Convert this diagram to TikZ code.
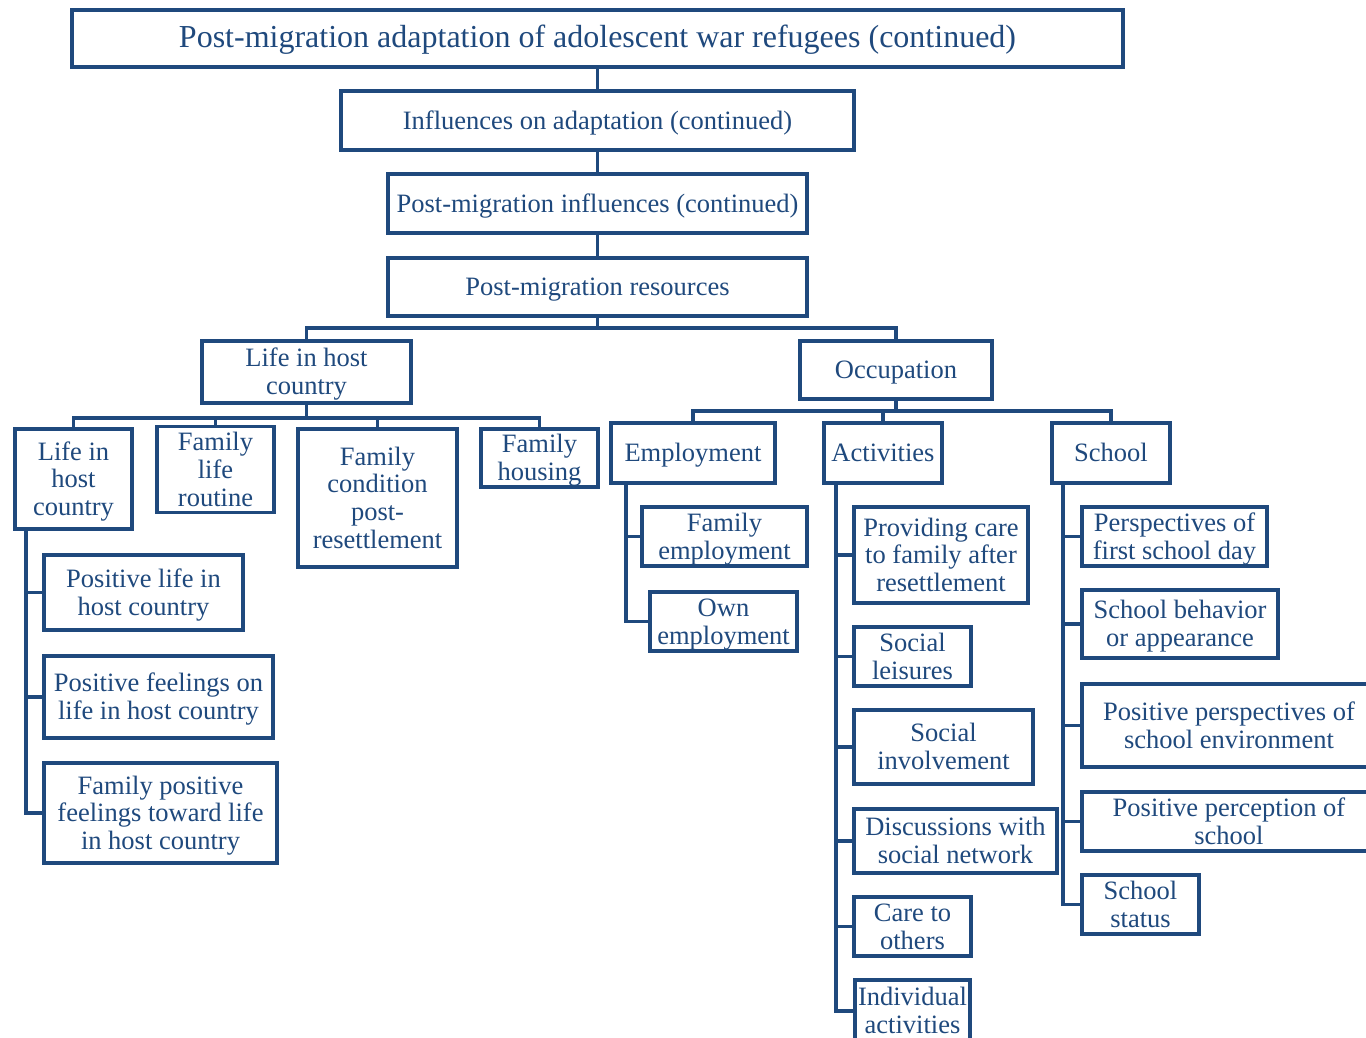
\documentclass[tikz,border=0pt]{standalone}
\usepackage{fontspec}
\setmainfont{Liberation Serif}
\definecolor{navy}{RGB}{31,73,125}
% fixed ascent for the first text line of a box
\newcommand{\topstrut}{\rule{0pt}{24pt}}
\begin{document}
\begin{tikzpicture}[x=1pt,y=-1pt,
  bx/.style={draw=navy,line width=3.6pt,fill=white,text=navy,inner sep=0pt,
    align=center,font=\fontsize{26.5}{27.8}\selectfont,
    execute at begin node={\topstrut},
    execute at end node={\rule[-6.3pt]{0pt}{6.3pt}}},
  link/.style={draw=navy,line width=3.6pt}]
\useasboundingbox (0,0) rectangle (1366,1037);
\fill[white] (0,0) rectangle (1366,1037);

% junction points of the horizontal bars
\coordinate (barA) at (597.5,328);
\coordinate (barB) at (306.5,418);
\coordinate (barC) at (896,411);

% boxes
\node[bx,minimum width=1051,minimum height=57,font=\fontsize{32}{36}\selectfont] (title) at (597.5,38.5) {Post-migration adaptation of adolescent war refugees (continued)};
\node[bx,minimum width=513,minimum height=59] (infl) at (597.5,120.5) {Influences on adaptation (continued)};
\node[bx,minimum width=419,minimum height=59] (pmi) at (597.5,203.5) {Post-migration influences (continued)};
\node[bx,minimum width=419,minimum height=58] (res) at (597.5,287) {Post-migration resources};

\node[bx,minimum width=209,minimum height=62] (life1) at (306.5,372) {\topstrut Life in host\\country};
\node[bx,minimum width=192,minimum height=58] (occ) at (896,370) {Occupation};

\node[bx,minimum width=117,minimum height=100] (lhc) at (73.5,479) {\topstrut Life in\\host\\country};
\node[bx,minimum width=117,minimum height=81] (flr) at (215.5,469.5) {\topstrut Family\\life\\routine};
\node[bx,minimum width=159,minimum height=138] (fcp) at (377.5,498) {\topstrut Family\\condition\\post-\\resettlement};
\node[bx,minimum width=117,minimum height=58] (fh) at (539.5,458) {\topstrut Family\\housing};

\node[bx,minimum width=164,minimum height=60] (emp) at (693,453) {Employment};
\node[bx,minimum width=118,minimum height=60] (act) at (883,453) {Activities};
\node[bx,minimum width=118,minimum height=60] (sch) at (1111,453) {School};

\node[bx,minimum width=199,minimum height=75] (pl1) at (143.5,592.5) {\topstrut Positive life in\\host country};
\node[bx,minimum width=229,minimum height=82] (pl2) at (158.5,697) {\topstrut Positive feelings on\\life in host country};
\node[bx,minimum width=233,minimum height=100] (pl3) at (160.5,813) {\topstrut Family positive\\feelings toward life\\in host country};

\node[bx,minimum width=165,minimum height=59] (fe) at (724.5,536.5) {\topstrut Family\\employment};
\node[bx,minimum width=147,minimum height=59] (oe) at (723.5,621.5) {\topstrut Own\\employment};

\node[bx,minimum width=174,minimum height=96] (a1) at (941,555) {\topstrut Providing care\\to family after\\resettlement};
\node[bx,minimum width=117,minimum height=59] (a2) at (912.5,656.5) {\topstrut Social\\leisures};
\node[bx,minimum width=179,minimum height=74] (a3) at (943.5,747) {\topstrut Social\\involvement};
\node[bx,minimum width=203,minimum height=64] (a4) at (955.5,841) {\topstrut Discussions with\\social network};
\node[bx,minimum width=117,minimum height=59] (a5) at (912.5,926.5) {\topstrut Care to\\others};
\node[bx,minimum width=115,minimum height=62] (a6) at (912.5,1011) {\topstrut Individual\\activities};

\node[bx,minimum width=185,minimum height=59] (s1) at (1174.5,536.5) {\topstrut Perspectives of\\first school day};
\node[bx,minimum width=196,minimum height=68] (s2) at (1180,624) {\topstrut School behavior\\or appearance};
\node[bx,minimum width=294,minimum height=83] (s3) at (1229,725.5) {\topstrut Positive perspectives of\\school environment};
\node[bx,minimum width=294,minimum height=59] (s4) at (1229,821.5) {\topstrut Positive perception of\\school};
\node[bx,minimum width=117,minimum height=59] (s5) at (1140.5,904.5) {\topstrut School\\status};

% trunk and bars
\path[link] (title.south) -- (infl.north);
\path[link] (infl.south) -- (pmi.north);
\path[link] (pmi.south) -- (res.north);
\path[link] (res.south) -- (barA);
\path[link] (barA) -| (life1.north);
\path[link] (barA) -| (occ.north);

\path[link] (life1.south) -- (barB);
\path[link] (barB) -| (lhc.north);
\path[link] (barB) -| (flr.north);
\path[link] (barB) -| (fcp.north);
\path[link] (barB) -| (fh.north);

\path[link] (occ.south) -- (barC);
\path[link] (barC) -| (emp.north);
\path[link] (barC) -| (act.north);
\path[link] (barC) -| (sch.north);

% side rails to the leaf boxes
\foreach \c in {pl1,pl2,pl3}
  \path[link] ([xshift=13pt]lhc.south west) |- (\c.west);
\foreach \c in {fe,oe}
  \path[link] ([xshift=17pt]emp.south west) |- (\c.west);
\foreach \c in {a1,a2,a3,a4,a5,a6}
  \path[link] ([xshift=14pt]act.south west) |- (\c.west);
\foreach \c in {s1,s2,s3,s4,s5}
  \path[link] ([xshift=13pt]sch.south west) |- (\c.west);
\end{tikzpicture}
\end{document}
